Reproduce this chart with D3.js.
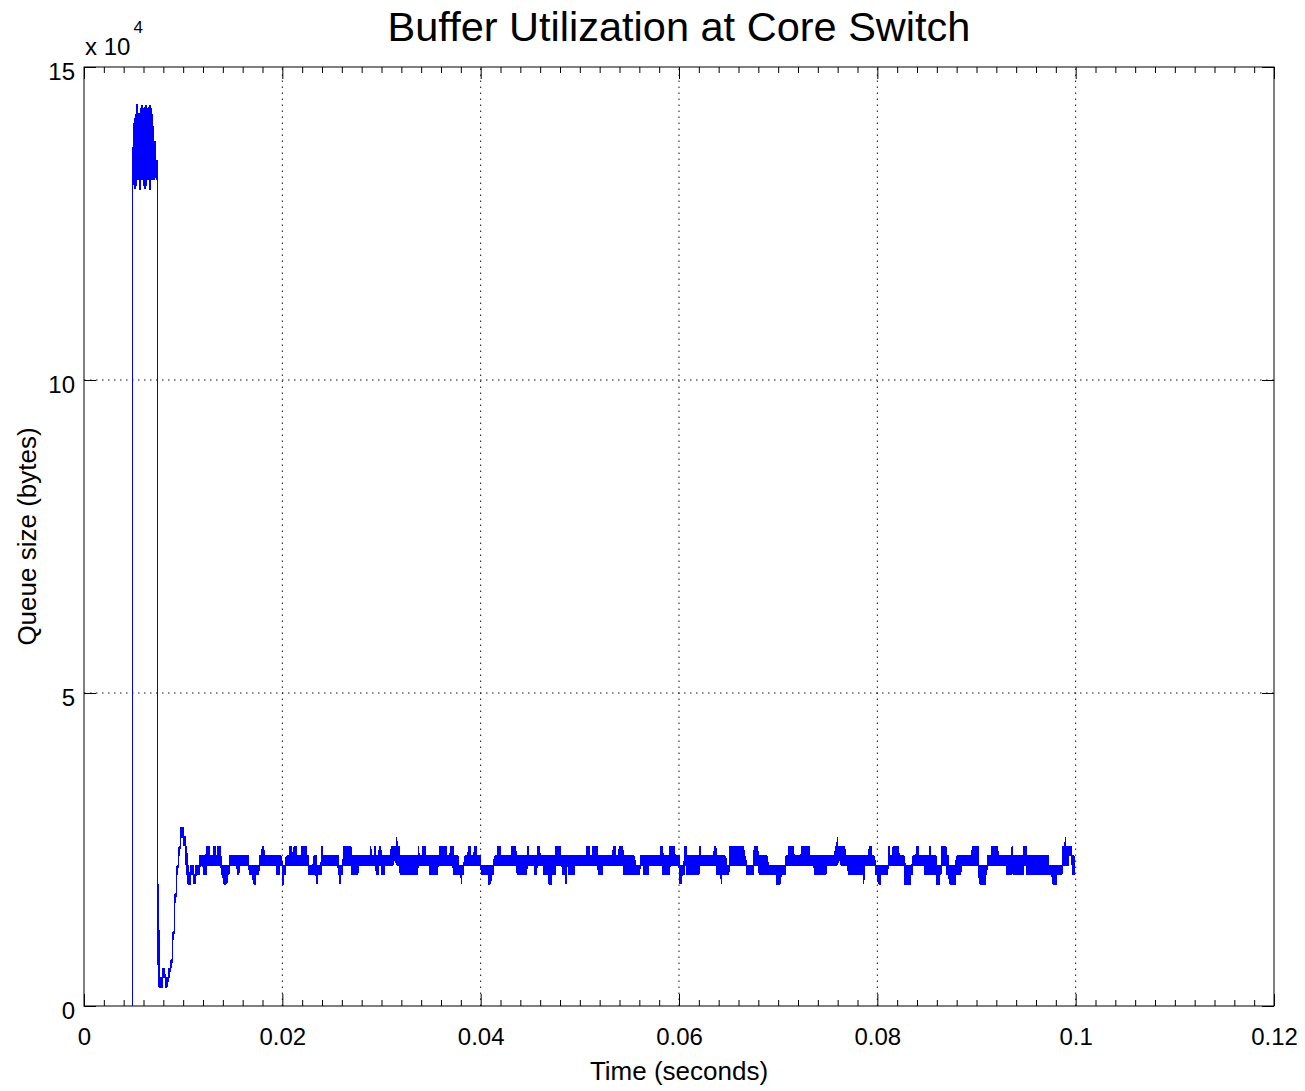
<!DOCTYPE html>
<html>
<head>
<meta charset="utf-8">
<script src="https://cdn.jsdelivr.net/npm/d3@7"></script>
<style>
  body { margin: 0; background: #fff; }
  svg text { font-family: "Liberation Sans", Arial, Helvetica, sans-serif; fill: #000; }
</style>
</head>
<body>
<div id="chart"></div>
<script>
// ---- data ----
const packetBytes = 1500;       // queue levels are counted in packets
const sampleStart = 0.0049;     // seconds, first sample
const sampleStep = 0.0001;      // seconds between samples

const xTicks = [0, 0.02, 0.04, 0.06, 0.08, 0.1, 0.12];
const xTickLabels = ["0", "0.02", "0.04", "0.06", "0.08", "0.1", "0.12"];
const yTicks = [0, 50000, 100000, 150000];
const yTickLabels = ["0", "5", "10", "15"];

// each run: "lo-hi*n" -> n samples where the queue swings between lo and hi packets
const startupRuns = "0-88*1 88-94*1 87-94*1 87-95*1 88-96*2 88-95*1 87-95*2 88-96*2 88-95*1 87-95*1 87-96*1 88-96*1 88-95*2 87-96*2 88-95*2 88-92*2 89-92*1 88-90*1 13-90*1 2-13*1";
const settleRuns = "2-3*3 2-4*1 3-4*2 2-3*3 3-4*2 4-4*1 4-5*1 5-7*1 7-8*1 8-11*1 11-12*1 12-14*1 14-15*1 15-16*1 16-17*1 17-19*1 18-19*3 17-18*2 15-17*1 14-16*1 13-15*1";
const steadyRuns1 = "13-14*2 14-15*3 13-14*2 14-15*1 14-15*3 15-16*4 14-16*3 15-17*3 15-16*4 15-17*2 15-16*2 15-17*3 15-16*1 14-15*2 13-15*4 14-15*2 15-16*8 14-16*2 15-16*10 14-15*4 13-15*3 14-15*3 15-16*3 15-17*2 15-16*2 15-16*10 14-16*4 15-16*2 13-15*2 14-15*2 15-16*3 15-17*3 15-16*2 15-17*3 15-16*5 15-17*5 15-16*2 14-15*5 14-16*3 13-15*1 14-15*4 15-17*1 15-16*16 14-15*1 13-15*1 14-15*3 15-17*8 14-16*7 15-16*12 15-17*1 15-16*3 15-17*2 14-16*3 15-17*2 14-16*4 15-16*6 15-17*3 16-17*2 15-18*1 15-17*3 14-16*10";
const steadyRuns2 = "14-16*8 15-17*1 15-16*3 15-17*4 15-16*2 15-16*2 14-16*8 15-16*2 15-17*7 15-16*4 15-17*3 14-16*5 14-15*3 13-15*1 14-15*2 15-16*4 15-17*3 15-16*3 15-17*3 15-16*4 14-15*7 13-15*3 14-15*3 15-16*3 15-17*4 15-16*3 15-16*7 15-17*5 15-16*1 14-16*10 15-17*2 15-16*2 15-16*3 14-16*3 15-17*3 15-16*4 14-16*5 13-16*3 14-16*4 15-17*5 15-16*2 14-16*3 13-16*1 15-16*2 14-16*6 15-16*9 15-16*3 15-17*4 15-16*2 15-17*6 14-16*5 15-16*10 15-17*3 15-16*3 15-17*4 14-16*12";
const steadyRuns3 = "14-15*5 15-16*3 14-16*6 15-16*11 15-17*3 14-16*7 15-17*5 15-16*5 13-15*2 14-15*3 15-17*2 14-16*13 15-17*2 15-16*13 15-17*2 14-16*5 13-16*1 14-16*4 14-15*3 15-17*15 15-16*2 14-15*8 15-17*4 15-16*1 14-16*9 14-15*8 13-15*5 14-15*5 15-16*3 15-17*5 15-16*8 15-17*8 15-16*2 15-16*3 14-16*12 15-16*9 15-17*2 15-18*1 16-17*2 15-17*5 15-16*3 14-16*12";
const steadyRuns4 = "14-16*3 13-16*1 14-16*1 15-16*4 15-17*3 15-16*3 14-15*3 13-15*3 14-15*7 15-17*2 15-16*3 15-17*6 15-16*6 13-15*6 14-15*2 15-16*4 15-17*2 15-16*6 14-16*5 15-17*1 14-16*6 13-15*4 14-15*1 15-17*5 14-16*3 13-15*7 14-16*5 15-16*11 15-17*7 13-15*7 14-15*1 15-16*4 15-17*7 15-16*8 14-16*6 15-17*1 14-16*11 15-17*3 14-16*22 14-15*4 13-15*5 14-15*5 15-17*3 15-18*1 15-17*3 16-17*3 14-16*3";

// ---- layout ----
const width = 1305, height = 1091;
const margin = { top: 67, right: 31, bottom: 85, left: 84 };

const svg = d3.select("#chart").append("svg")
    .attr("width", width)
    .attr("height", height);

const x = d3.scaleLinear().domain([0, 0.12]).range([margin.left, width - margin.right]);
const y = d3.scaleLinear().domain([0, 150000]).range([height - margin.bottom, margin.top]);

// expand runs into samples
const samples = [];
[startupRuns, settleRuns, steadyRuns1, steadyRuns2, steadyRuns3, steadyRuns4].forEach(runs => {
    runs.split(" ").forEach(tok => {
        const [range, n] = tok.split("*");
        const [lo, hi] = range.split("-").map(Number);
        for (let k = 0; k < +n; k++) samples.push({ lo, hi });
    });
});

const points = [];
samples.forEach((s, i) => {
    const t = sampleStart + i * sampleStep;
    const a = i % 2 === 0 ? s.lo : s.hi;
    const b = i % 2 === 0 ? s.hi : s.lo;
    points.push([t, a * packetBytes], [t, b * packetBytes]);
});

// grid
const gridX = xTicks.slice(1, -1);
const gridY = yTicks.slice(1, -1);
svg.append("g").selectAll("line").data(gridX).enter().append("line")
    .attr("x1", d => x(d)).attr("x2", d => x(d))
    .attr("y1", y(0)).attr("y2", y(150000))
    .attr("stroke", "#111").attr("stroke-width", 1)
    .attr("stroke-dasharray", "1.5,4.5");
svg.append("g").selectAll("line").data(gridY).enter().append("line")
    .attr("x1", x(0)).attr("x2", x(0.12))
    .attr("y1", d => y(d)).attr("y2", d => y(d))
    .attr("stroke", "#111").attr("stroke-width", 1)
    .attr("stroke-dasharray", "1.5,4.5");

// series
const line = d3.line().x(d => x(d[0])).y(d => y(d[1]));
svg.append("path")
    .datum(points)
    .attr("d", line)
    .attr("fill", "none")
    .attr("stroke", "#0000ff")
    .attr("stroke-width", 1.3)
    .attr("shape-rendering", "crispEdges");

// axes (MATLAB style: ticks inside, box all round)
const xMinor = d3.range(0, 0.1201, 0.002).filter(v => Math.abs(v / 0.02 - Math.round(v / 0.02)) > 1e-6);

function styleAxis(g) {
    g.select(".domain").remove();
    g.selectAll("line").attr("stroke", "#000");
    g.selectAll("text").attr("font-size", 24).attr("font-family", null);
}

svg.append("g")
    .attr("transform", `translate(0, ${y(0)})`)
    .call(d3.axisBottom(x).tickValues(xTicks).tickSize(-12).tickPadding(22).tickFormat((d, i) => xTickLabels[i]))
    .call(styleAxis);
svg.append("g")
    .attr("transform", `translate(0, ${y(0)})`)
    .call(d3.axisBottom(x).tickValues(xMinor).tickSize(-6).tickFormat(""))
    .call(styleAxis);
svg.append("g")
    .attr("transform", `translate(0, ${y(150000)})`)
    .call(d3.axisTop(x).tickValues(xTicks).tickSize(-12).tickFormat(""))
    .call(styleAxis);
svg.append("g")
    .attr("transform", `translate(0, ${y(150000)})`)
    .call(d3.axisTop(x).tickValues(xMinor).tickSize(-6).tickFormat(""))
    .call(styleAxis);
svg.append("g")
    .attr("transform", `translate(${x(0)}, 0)`)
    .call(d3.axisLeft(y).tickValues(yTicks).tickSize(-12).tickPadding(9).tickFormat((d, i) => yTickLabels[i]))
    .call(styleAxis)
    .selectAll("text").attr("dy", "0.5em");
svg.append("g")
    .attr("transform", `translate(${x(0.12)}, 0)`)
    .call(d3.axisRight(y).tickValues(yTicks).tickSize(-12).tickFormat(""))
    .call(styleAxis);

svg.append("rect")
    .attr("x", x(0)).attr("y", y(150000))
    .attr("width", x(0.12) - x(0)).attr("height", y(0) - y(150000))
    .attr("fill", "none").attr("stroke", "#000").attr("stroke-width", 1);

// exponent label
const expo = svg.append("text").attr("x", x(0) + 1).attr("y", 55).attr("font-size", 24);
expo.append("tspan").text("x 10");
expo.append("tspan").attr("dy", -22).attr("dx", 3).attr("font-size", 17).text("4");

// titles
svg.append("text")
    .attr("x", (x(0) + x(0.12)) / 2).attr("y", 41)
    .attr("text-anchor", "middle").attr("font-size", 41.5)
    .text("Buffer Utilization at Core Switch");
svg.append("text")
    .attr("x", (x(0) + x(0.12)) / 2).attr("y", 1080)
    .attr("text-anchor", "middle").attr("font-size", 26)
    .text("Time (seconds)");
svg.append("text")
    .attr("transform", "rotate(-90)")
    .attr("x", -(y(0) + y(150000)) / 2).attr("y", 36)
    .attr("text-anchor", "middle").attr("font-size", 26)
    .text("Queue size (bytes)");
</script>
</body>
</html>
